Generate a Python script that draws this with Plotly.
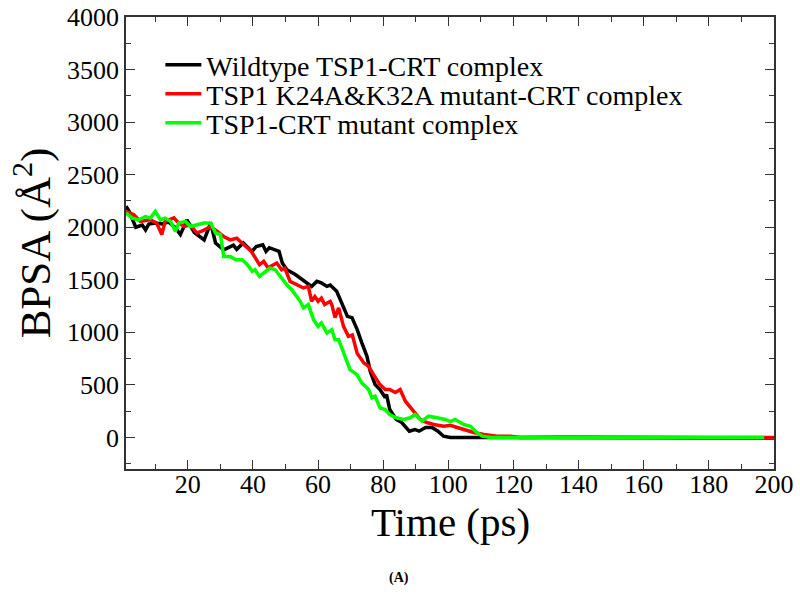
import plotly.graph_objects as go

# Wildtype TSP1-CRT complex
t_black = [1, 2, 4, 6, 7, 8, 10, 12, 14, 16, 17.7, 19.7, 22, 25, 27, 28.5, 31, 34, 35, 37, 39.7,
           41, 43, 44, 45, 48, 49, 50.4, 53, 56.5, 58, 59.6, 61, 62.7, 63.7, 65.7, 67.7, 69, 70.4,
           72, 73.4, 75, 76, 77.5, 79, 80.6, 81, 82, 84, 85.7, 88, 89.7, 91, 93, 95, 96.8, 98.5,
           100.6, 110, 125, 140, 155, 170, 185, 197, 200]
v_black = [2200, 2150, 2000, 2020, 1975, 2030, 2040, 2030, 2050, 2000, 1930, 2070, 1950, 1880, 2040,
           1850, 1785, 1830, 1790, 1850, 1770, 1817, 1833, 1770, 1805, 1770, 1660, 1596, 1550, 1470,
           1437, 1485, 1470, 1437, 1450, 1390, 1247, 1152, 1140, 1026, 902, 772, 630, 503, 456, 380,
           410, 266, 171, 142, 60, 76, 60, 95, 95, 60, 12, 0, 0, 0, -3, 0, -5, 0, 0, -5]

# TSP1 K24A&K32A mutant-CRT complex
t_red = [1, 3.4, 5.4, 8.5, 10.4, 12, 13, 15.7, 16.7, 18.8, 20.8, 22.8, 24.8, 27, 29, 31, 33, 35,
         37.2, 39.5, 42, 43.3, 44.6, 47.3, 48.8, 49.8, 51.4, 53.4, 55.5, 57, 58, 59, 60, 61, 62,
         63.7, 64.2, 65.2, 66.3, 67.8, 69.3, 70.5, 72, 74, 75.5, 77, 79, 80.6, 82, 83.7, 85.2,
         86.8, 88.8, 89.7, 91.4, 93.4, 95.5, 98.6, 100.6, 102.7, 104.7, 107.8, 110.9, 115, 119,
         122, 135, 150, 165, 180, 195, 200]
v_red = [2150, 2118, 2055, 2070, 2040, 1930, 2055, 2090, 2055, 2007, 2020, 1945, 1970, 2007, 1960,
         1912, 1880, 1895, 1833, 1770, 1643, 1675, 1615, 1660, 1596, 1610, 1485, 1453, 1422, 1437,
         1295, 1340, 1295, 1325, 1264, 1295, 1264, 1140, 1233, 1057, 962, 975, 800, 710, 677, 598,
         503, 456, 456, 427, 456, 345, 266, 237, 171, 142, 123, 107, 115, 95, 76, 47, 28, 12, 12,
         0, 5, 0, 3, 0, 4, 0]

# TSP1-CRT mutant complex
t_green = [1, 2.9, 4.9, 7, 8.5, 10, 11.6, 13, 14.7, 16.2, 17.2, 19.3, 20.8, 22.8, 24.9, 27, 28.5,
           30, 31, 33, 34.7, 36.7, 38.3, 39.8, 40.6, 42, 43.7, 45.2, 46.8, 48.3, 50.4, 51.9, 53.4,
           54.5, 55.5, 57, 58.6, 60, 61, 62.7, 64.2, 65.2, 66.3, 67.8, 69.8, 71.9, 73.4, 75.5,
           76.5, 77.5, 79, 80.6, 82, 84, 86.2, 88.3, 89.8, 91.9, 93.9, 96.5, 99, 100.6, 102, 103.7,
           104.7, 106.8, 108.8, 110.4, 113, 130, 150, 170, 190, 197]
v_green = [2137, 2087, 2070, 2102, 2087, 2150, 2070, 2087, 2055, 1960, 2040, 2055, 2007, 2020, 2040,
           2040, 1945, 1930, 1722, 1722, 1690, 1690, 1643, 1580, 1596, 1532, 1580, 1612, 1596, 1532,
           1453, 1406, 1342, 1295, 1232, 1264, 1121, 1057, 1090, 995, 1026, 930, 930, 805, 646, 598,
           520, 456, 377, 393, 282, 266, 218, 187, 171, 187, 218, 155, 202, 187, 171, 150, 171, 142,
           123, 107, 45, 12, 0, 0, 0, 0, 0, 0]

names = ["Wildtype TSP1-CRT complex", "TSP1 K24A&K32A mutant-CRT complex", "TSP1-CRT mutant complex"]
colors = ["#000000", "#ff0000", "#00ff00"]
x_ticks = [20, 40, 60, 80, 100, 120, 140, 160, 180, 200]
y_ticks = [0, 500, 1000, 1500, 2000, 2500, 3000, 3500, 4000]

FONT = "Liberation Serif"

fig = go.Figure()
legend_ids = ["legend", "legend2", "legend3"]
for t, v, n, c, lg in [(t_black, v_black, names[0], colors[0], legend_ids[0]),
                       (t_red, v_red, names[1], colors[1], legend_ids[1]),
                       (t_green, v_green, names[2], colors[2], legend_ids[2])]:
    fig.add_trace(go.Scatter(x=t, y=v, mode="lines", name=n, legend=lg, showlegend=True,
                             line=dict(color=c, width=3.5)))

axis_common = dict(showgrid=False, zeroline=False, showline=True, linecolor="#333333",
                   linewidth=1.5, ticks="inside", mirror="allticks", tickcolor="#333333",
                   tickwidth=1.2, ticklen=9, ticklabeloverflow="allow",
                   tickfont=dict(family=FONT, size=26, color="#000"))

fig.update_xaxes(range=[1, 200], tickvals=x_ticks, ticklabelstandoff=-9,
                 minor=dict(dtick=10, tick0=0, ticks="inside", ticklen=5, tickcolor="#333333"),
                 **axis_common)
fig.update_yaxes(range=[-300, 4000], tickvals=y_ticks,
                 minor=dict(dtick=250, tick0=0, ticks="inside", ticklen=5, tickcolor="#333333"),
                 title=dict(text="BPSA (Å<sup>2</sup>)", font=dict(family=FONT, size=43, color="#000"), standoff=3),
                 **axis_common)

PH = 452.0  # plot height in px
def leg(yc):
    return dict(x=0.053, y=(469 - yc) / PH, xanchor="left", yanchor="middle",
                bgcolor="rgba(0,0,0,0)", font=dict(family=FONT, size=28, color="#000"),
                itemwidth=36)

fig.update_layout(
    width=800, height=595, showlegend=True,
    margin=dict(l=126, r=26, t=17, b=126, autoexpand=False),
    plot_bgcolor="white", paper_bgcolor="white",
    legend=leg(65), legend2=leg(94), legend3=leg(123),
    annotations=[
        dict(text="Time (ps)", x=0.5, y=-(522 - 469) / PH, xref="paper", yref="paper",
             yanchor="middle", showarrow=False, font=dict(family=FONT, size=41, color="#000")),
        dict(text="<b>(A)</b>", x=(399 - 126) / 648, y=-(578 - 469) / PH,
             xref="paper", yref="paper", yanchor="middle",
             showarrow=False, font=dict(family=FONT, size=14, color="#000")),
    ],
)

fig.write_html("out.html", config={"displayModeBar": False},
               post_script="document.body.style.margin='0';document.body.style.padding='0';")
